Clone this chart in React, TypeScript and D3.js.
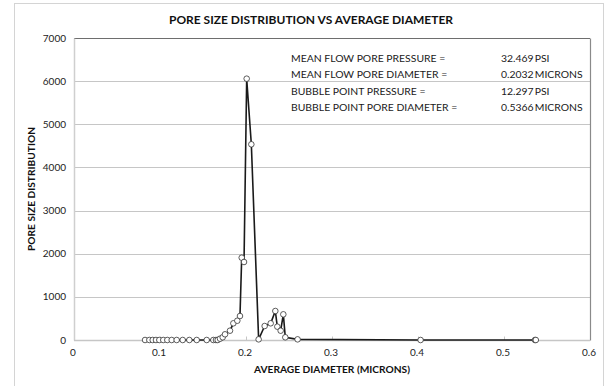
import { useEffect, useRef } from "react";
import * as d3 from "d3";

// average diameter (microns) and pore size distribution
const diameters = [
  0.0826, 0.0876, 0.0915, 0.0953, 0.0992, 0.1038, 0.1085, 0.1136, 0.1194,
  0.1264, 0.1341, 0.1427, 0.1543, 0.162, 0.1651, 0.1671, 0.1698, 0.1729,
  0.1756, 0.1814, 0.1853, 0.1899, 0.193, 0.195, 0.1977, 0.2008, 0.2062,
  0.2147, 0.2217, 0.2287, 0.2341, 0.2364, 0.2403, 0.2434, 0.2457, 0.26,
  0.403, 0.536, 0.537,
];
const distribution = [
  0, 0, 0, 0, 0, 0, 0, 0, 0, 0, 0, 0, 0, 0, 0, 0, 30, 63, 132, 216, 387, 447,
  556, 1908, 1808, 6057, 4536, 15, 324, 387, 672, 309, 216, 595, 63, 15, 0, 0,
  0,
];

const xTicks = [0, 0.1, 0.2, 0.3, 0.4, 0.5, 0.6];
const yTicks = [0, 1000, 2000, 3000, 4000, 5000, 6000, 7000];

const infoLabels = [
  "MEAN FLOW PORE PRESSURE =",
  "MEAN FLOW PORE DIAMETER =",
  "BUBBLE POINT PRESSURE =",
  "BUBBLE POINT PORE DIAMETER =",
];
const infoValues = ["32.469 PSI", "0.2032 MICRONS", "12.297 PSI", "0.5366 MICRONS"];

const FONT = "Lato, 'Open Sans', sans-serif";

export default function App() {
  const svgRef = useRef<SVGSVGElement>(null);

  useEffect(() => {
    if (!svgRef.current) return;
    const width = 607;
    const height = 386;
    const m = { left: 74, right: 590, top: 38, bottom: 340 };

    const svg = d3.select(svgRef.current);
    svg.selectAll("*").remove();

    const x = d3.scaleLinear().domain([0, 0.6]).range([m.left, m.right]);
    const y = d3.scaleLinear().domain([0, 7000]).range([m.bottom, m.top]);

    svg.append("rect").attr("width", width).attr("height", height).attr("fill", "#fff");

    // outer chart frame
    svg
      .append("rect")
      .attr("x", 14.5)
      .attr("y", 3.5)
      .attr("width", 589)
      .attr("height", 420)
      .attr("fill", "none")
      .attr("stroke", "#d4d4d4");

    // gridlines
    svg
      .append("g")
      .selectAll("line")
      .data(yTicks.slice(1, -1))
      .join("line")
      .attr("x1", m.left)
      .attr("x2", m.right)
      .attr("y1", (d) => Math.round(y(d)) + 0.5)
      .attr("y2", (d) => Math.round(y(d)) + 0.5)
      .attr("stroke", "#c6c6c6");

    // plot border
    const top = Math.round(y(7000)) + 0.5;
    const bot = Math.round(y(0)) + 0.5;
    svg.append("line").attr("x1", m.left).attr("x2", m.right).attr("y1", top).attr("y2", top).attr("stroke", "#6e6e6e");
    svg.append("line").attr("x1", m.right + 0.5).attr("x2", m.right + 0.5).attr("y1", top).attr("y2", bot).attr("stroke", "#8a8a8a").attr("stroke-width", 1.2);
    svg.append("line").attr("x1", m.left + 0.5).attr("x2", m.left + 0.5).attr("y1", top).attr("y2", bot).attr("stroke", "#cfcfcf").attr("stroke-width", 1.5);
    svg.append("line").attr("x1", m.left).attr("x2", m.right).attr("y1", bot).attr("y2", bot).attr("stroke", "#c6c6c6").attr("stroke-width", 1.5);

    // small tick marks on the x axis
    svg
      .append("g")
      .selectAll("line")
      .data(xTicks.slice(1, -1))
      .join("line")
      .attr("x1", (d) => Math.round(x(d)) + 0.5)
      .attr("x2", (d) => Math.round(x(d)) + 0.5)
      .attr("y1", bot)
      .attr("y2", bot - 4)
      .attr("stroke", "#c6c6c6");

    // tick labels
    svg
      .append("g")
      .selectAll("text")
      .data(yTicks)
      .join("text")
      .attr("x", 66)
      .attr("y", (d) => y(d) + 3.5)
      .attr("text-anchor", "end")
      .attr("font-family", FONT)
      .attr("font-size", 10)
      .attr("fill", "#222")
      .text((d) => d);

    svg
      .append("g")
      .selectAll("text")
      .data(xTicks)
      .join("text")
      .attr("x", (d) => x(d) - 1)
      .attr("y", 356)
      .attr("text-anchor", "middle")
      .attr("font-family", FONT)
      .attr("font-size", 10)
      .attr("fill", "#222")
      .text((d) => d3.format("~g")(d));

    // titles
    svg
      .append("text")
      .attr("x", 311)
      .attr("y", 24)
      .attr("text-anchor", "middle")
      .attr("font-family", FONT)
      .attr("font-weight", "bold")
      .attr("font-size", 12)
      .attr("fill", "#111")
      .text("PORE SIZE DISTRIBUTION VS AVERAGE DIAMETER");

    svg
      .append("text")
      .attr("x", 332)
      .attr("y", 373)
      .attr("text-anchor", "middle")
      .attr("font-family", FONT)
      .attr("font-weight", "bold")
      .attr("font-size", 10.2)
      .attr("fill", "#111")
      .text("AVERAGE DIAMETER (MICRONS)");

    svg
      .append("text")
      .attr("transform", `translate(35,${(m.top + m.bottom) / 2}) rotate(-90)`)
      .attr("text-anchor", "middle")
      .attr("font-family", FONT)
      .attr("font-weight", "bold")
      .attr("font-size", 10.2)
      .attr("fill", "#111")
      .text("PORE SIZE DISTRIBUTION");

    // info box
    const info = svg.append("g").attr("font-family", FONT).attr("font-size", 10.4).attr("fill", "#1a1a1a");
    info
      .selectAll("text.lab")
      .data(infoLabels)
      .join("text")
      .attr("class", "lab")
      .attr("x", 291)
      .attr("y", (_, i) => 62 + i * 16.3)
      .text((d) => d);
    info
      .selectAll("text.val")
      .data(infoValues)
      .join("text")
      .attr("class", "val")
      .attr("x", 501)
      .attr("y", (_, i) => 62 + i * 16.3)
      .attr("word-spacing", -1.5)
      .text((d) => d);

    // series
    const pts = diameters.map((d, i) => [d, distribution[i]] as [number, number]);
    const line = d3
      .line<[number, number]>()
      .x((d) => x(d[0]))
      .y((d) => y(d[1]));

    svg
      .append("path")
      .attr("d", line(pts))
      .attr("fill", "none")
      .attr("stroke", "#1a1a1a")
      .attr("stroke-width", 1.6);

    svg
      .append("g")
      .selectAll("circle")
      .data(pts)
      .join("circle")
      .attr("cx", (d) => x(d[0]))
      .attr("cy", (d) => y(d[1]))
      .attr("r", 2.8)
      .attr("fill", "#fff")
      .attr("stroke", "#333")
      .attr("stroke-width", 0.8);
  }, []);

  return (
    <svg
      ref={svgRef}
      width={607}
      height={386}
      style={{ position: "absolute", left: 0, top: 0 }}
    />
  );
}
